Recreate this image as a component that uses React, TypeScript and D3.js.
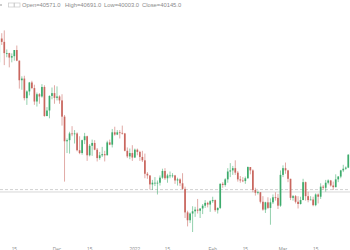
import React from "react";
import * as d3 from "d3";

const W = 350;
const H = 250;

// daily candles, first candle date
const startDate = "2021-11-08";

const opens = [
  63300, 67550, 66950, 64950, 64950, 64150, 64400, 65500, 63600, 60100, 60400, 56900, 58100, 59700, 58700, 56300, 57600, 57200, 58900, 53700, 54700, 57300, 57800,
  56950, 57200, 56500, 53600, 49200, 49400, 50600, 50500, 50600, 47600, 47100, 49400, 50100, 46700, 48400, 48900, 47700, 46200, 46700, 46900, 46700, 49000, 48600, 50800, 50400, 50800, 50700, 50600, 47500, 46500, 47100,
  46300, 47700, 47300, 46400, 45800, 43400, 43100, 41500, 41800, 41800, 41800, 42700, 43900, 42600, 43100, 43100, 43100, 42200, 42400, 41700, 40700, 36500, 35100, 36300, 36700, 37000, 36800, 37200, 37700, 38200, 37900,
  38500, 38700, 36900, 37300, 41600, 41400, 42400, 43800, 44000, 44400, 43600, 42400, 42200, 42100, 42600, 44600, 44000, 40500, 40000, 40100, 38400, 37000, 38300, 37300, 38300, 39200, 39100, 37700,
  43200, 44400, 44000, 42500, 39100, 39400, 38400, 38000, 38700, 41900, 39400, 38700, 38800, 37800, 39700, 39300, 41100, 40900, 41800, 42200, 41300, 41000, 42400, 42900, 44000, 44300, 44500, 46800,
];

const highs = [
  67800, 68500, 69000, 65600, 65000, 64900, 65500, 66300, 63600, 60800, 60900, 58300, 59800, 60000, 59300, 57900, 57800, 59400, 59200, 55300, 57400, 58800, 59200,
  59000, 57400, 57600, 53900, 49700, 50900, 51900, 51200, 50800, 50100, 49500, 50700, 50200, 48700, 49500, 49400, 48000, 47300, 48200, 47500, 49300, 49500, 51400, 51800, 51200, 51200, 52000, 50700, 48100, 47900, 48500,
  47900, 47900, 47500, 47500, 47000, 43700, 43100, 42300, 42800, 42200, 43100, 44300, 44400, 43400, 43800, 43500, 43200, 42700, 42600, 43500, 41100, 36800, 36500, 37600, 37500, 38900, 37200, 38000, 38700, 38400, 38700,
  39300, 38800, 37400, 41700, 41900, 42600, 44400, 45300, 44800, 45800, 43900, 43000, 42800, 42900, 44700, 44600, 44200, 40900, 40400, 40100, 39400, 38400, 39200, 39000, 39700, 40100, 39800, 44000,
  44900, 45400, 44100, 42500, 39600, 39600, 39400, 39300, 42500, 42000, 40200, 39400, 39300, 39900, 39900, 41700, 41400, 42300, 42400, 42300, 42000, 43300, 43000, 44100, 45000, 44700, 46900, 48100,
];

const lows = [
  63100, 66400, 62800, 64200, 62400, 63300, 63600, 63500, 58600, 58400, 56500, 55700, 57400, 58500, 55700, 55400, 55900, 57000, 53600, 53700, 53300, 56700, 55900,
  56500, 55900, 52000, 42000, 47100, 47000, 50100, 48800, 47400, 46900, 46800, 48700, 45700, 46500, 46600, 47600, 45600, 45900, 46400, 45600, 46700, 48500, 48100, 50200, 50300, 49700, 50400, 47400, 46200, 46000, 45700,
  46200, 46700, 45700, 45500, 42600, 42500, 40600, 40500, 41200, 39700, 41300, 42500, 42300, 41800, 42600, 42700, 41600, 41300, 41200, 40600, 35500, 34000, 34600, 33000, 35700, 36300, 35500, 36200, 37300, 37400, 36600,
  38200, 36600, 36300, 37100, 40900, 41100, 41800, 42800, 43200, 43200, 42000, 41800, 41900, 41600, 42500, 43300, 40100, 39500, 39700, 38100, 36800, 36400, 37100, 34300, 38000, 38600, 37100, 37500,
  42800, 43400, 41900, 38700, 38600, 38100, 37200, 37900, 38700, 38600, 38300, 38700, 37600, 37600, 38100, 38900, 40500, 40200, 41500, 41100, 40500, 41000, 41900, 42600, 43700, 44100, 44400, 46600,
];

const closes = [
  67550, 66950, 64950, 64950, 64150, 64400, 65500, 63600, 60100, 60400, 56900, 58100, 59700, 58700, 56300, 57600, 57200, 58900, 53700, 54700, 57300, 57800, 56950,
  57200, 56500, 53600, 49200, 49400, 50600, 50500, 50600, 47600, 47100, 49400, 50100, 46700, 48400, 48900, 47700, 46200, 46700, 46900, 46700, 49000, 48600, 50800, 50400, 50800, 50700, 50600, 47500, 46500, 47100, 46300,
  47700, 47300, 46400, 45800, 43400, 43100, 41500, 41800, 41800, 41800, 42700, 43900, 42600, 43100, 43100, 43100, 42200, 42400, 41700, 40700, 36500, 35100, 36300, 36700, 37000, 36800, 37200, 37700, 38200, 37900, 38500,
  38700, 36900, 37300, 41600, 41400, 42400, 43800, 44000, 44400, 43600, 42400, 42200, 42100, 42600, 44600, 44000, 40500, 40000, 40100, 38400, 37000, 38300, 37300, 38300, 39200, 39100, 37700, 43200,
  44400, 44000, 42500, 39100, 39400, 38400, 38000, 38700, 41900, 39400, 38700, 38800, 37800, 39700, 39300, 41100, 40900, 41800, 42200, 41300, 41000, 42400, 42900, 44000, 44300, 44500, 46800, 47100,
];

const legendLabels = ["Open", "High", "Low", "Close"];
const legendValues = [40571.0, 40691.0, 40003.0, 40145.0];

const tickDates = ["2021-11-15", "2021-12-01", "2021-12-15", "2022-01-01", "2022-01-15", "2022-02-01", "2022-02-15", "2022-03-01", "2022-03-15"];
const tickLabels = ["15", "Dec", "15", "2022", "15", "Feb", "15", "Mar", "15"];

const UP = "#3dab6c";
const DOWN = "#c9675f";

export default function App() {
  const parse = d3.utcParse("%Y-%m-%d");
  const start = parse(startDate) as Date;
  const dates = closes.map((_, i) => d3.utcDay.offset(start, i));

  const x = d3
    .scaleUtc()
    .domain([parse("2021-12-01") as Date, parse("2022-03-01") as Date])
    .range([57, 283]);
  const y = d3.scaleLinear().domain([33000, 69250]).range([232, 29]);

  const bw = 1.7;
  const legendX = [22, 65, 104, 142];
  const fmt = d3.format(".1f");

  return (
    <svg
      width={W}
      height={H}
      style={{ position: "absolute", left: 0, top: 0, display: "block", background: "#fff" }}
      fontFamily="'Liberation Sans', Arial, sans-serif"
    >
      <rect x={0} y={0} width={W} height={H} fill="#fff" />
      {/* price lines */}
      <line x1={0} x2={W} y1={y(legendValues[0])} y2={y(legendValues[0])} stroke="#c4c4c4" strokeWidth={0.8} strokeDasharray="3,2" />
      <line x1={0} x2={W} y1={y(legendValues[3])} y2={y(legendValues[3])} stroke="#d2d2d2" strokeWidth={0.9} />

      {/* candles */}
      {dates.map((d, i) => {
        const o = opens[i];
        const c = closes[i];
        const col = c >= o ? UP : DOWN;
        const cx = x(d);
        const yTop = y(Math.max(o, c));
        const yBot = y(Math.min(o, c));
        return (
          <g key={i}>
            <line x1={cx} x2={cx} y1={y(highs[i])} y2={y(lows[i])} stroke={col} strokeWidth={0.8} strokeOpacity={0.7} />
            <rect x={cx - bw / 2} y={yTop} width={bw} height={Math.max(0.8, yBot - yTop)} fill={col} />
          </g>
        );
      })}

      {/* legend */}
      <circle cx={1} cy={5} r={1} fill="#bbb" />
      <rect x={8.5} y={3} width={5.5} height={4} fill="none" stroke="#c8c8c8" strokeWidth={0.7} />
      <rect x={14.5} y={3} width={5.5} height={4} fill="none" stroke="#c8c8c8" strokeWidth={0.7} />
      {legendLabels.map((l, i) => (
        <text key={l} x={legendX[i]} y={7} fontSize={5.8} fill="#8a8a8a">
          {l}={fmt(legendValues[i])}
        </text>
      ))}

      {/* x axis labels */}
      {tickDates.map((t, i) => (
        <text
          key={t}
          x={x(parse(t) as Date)}
          dx={tickLabels[i] === "15" ? -2.5 : 0}
          y={250.5}
          fontSize={4.8}
          fill="#8f8f8f"
          textAnchor="middle"
        >
          {tickLabels[i]}
        </text>
      ))}
    </svg>
  );
}
